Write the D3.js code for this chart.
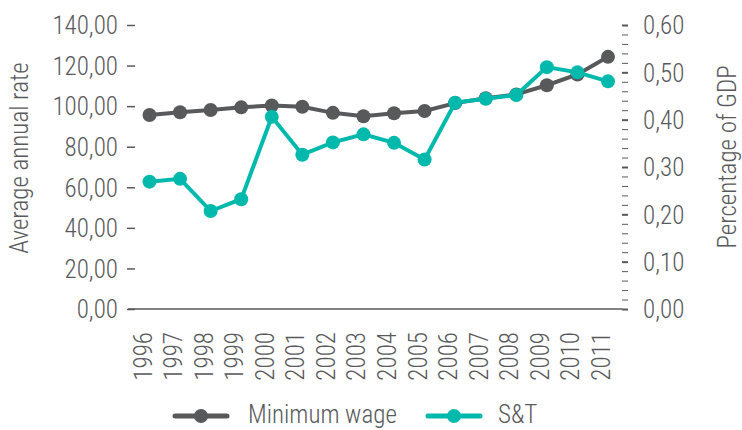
<!DOCTYPE html>
<html>
<head>
<meta charset="utf-8">
<script src="https://cdn.jsdelivr.net/npm/d3@7"></script>
<style>
  body { margin: 0; background: #fff; }
  svg text { font-family: "Liberation Sans Narrow", "Roboto Condensed", "DejaVu Sans Condensed", sans-serif; font-weight: 300; fill: #58595b; }
</style>
</head>
<body>
<div id="chart"></div>
<script>
const years = ['1996', '1997', '1998', '1999', '2000', '2001', '2002', '2003',
  '2004', '2005', '2006', '2007', '2008', '2009', '2010', '2011']
const minimumWage = [95.6, 97.0, 98.1, 99.4, 100.3, 99.7, 96.7, 95.0,
  96.5, 97.6, 101.5, 103.9, 105.8, 110.3, 115.6, 124.3]
const snt = [0.269, 0.275, 0.207, 0.232, 0.406, 0.326, 0.352, 0.369,
  0.351, 0.316, 0.436, 0.444, 0.452, 0.511, 0.500, 0.481]
const leftTicks = [0, 20, 40, 60, 80, 100, 120, 140]
const rightTicks = [0, 0.1, 0.2, 0.3, 0.4, 0.5, 0.6]
const seriesNames = ['Minimum wage', 'S&T']
const colors = ['#58595b', '#00b9ad']

const width = 742, height = 430
const plot = { left: 128, right: 622, top: 25, bottom: 309 }

const comma = d3.format('.2f')
const fmt = v => comma(v).replace('.', ',')

const svg = d3.select('#chart')
  .append('svg')
    .attr('width', width)
    .attr('height', height)

const x = d3.scalePoint()
  .domain(years)
  .range([149.5, 608])

const yLeft = d3.scaleLinear()
  .domain([0, 140])
  .range([plot.bottom, plot.top])

const yRight = d3.scaleLinear()
  .domain([0, 0.6])
  .range([plot.bottom, plot.top])

// left axis
const leftG = svg.append('g')
  .attr('transform', `translate(135, 0)`)
  .call(d3.axisLeft(yLeft).tickValues(leftTicks).tickSize(8).tickPadding(9).tickFormat(fmt))
leftG.select('.domain').remove()
leftG.selectAll('line').attr('stroke', '#58595b').attr('stroke-width', 1.5)
leftG.selectAll('text').style('font-size', '25px').attr('dy', '0.35em')

// right axis, minor dashes
const minor = d3.range(0, 0.601, 0.02).filter(v => Math.abs(Math.round(v * 10) - v * 10) > 0.01)
const rightMinor = svg.append('g')
  .attr('transform', `translate(${plot.right}, 0)`)
  .call(d3.axisRight(yRight).tickValues(minor).tickSize(6).tickFormat(''))
rightMinor.select('.domain').remove()
rightMinor.selectAll('line').attr('stroke', '#58595b').attr('stroke-width', 1)

const rightG = svg.append('g')
  .attr('transform', `translate(${plot.right}, 0)`)
  .call(d3.axisRight(yRight).tickValues(rightTicks).tickSize(6).tickPadding(15).tickFormat(fmt))
rightG.select('.domain').remove()
rightG.selectAll('line').attr('stroke', '#58595b').attr('stroke-width', 2)
rightG.selectAll('text').style('font-size', '25px').attr('dy', '0.35em')

// baseline
svg.append('line')
  .attr('x1', plot.left).attr('x2', plot.right)
  .attr('y1', plot.bottom).attr('y2', plot.bottom)
  .attr('stroke', '#58595b')
  .attr('stroke-width', 1.5)

// year labels
svg.append('g')
  .selectAll('text')
  .data(years)
  .enter()
  .append('text')
    .attr('transform', d => `translate(${x(d) + 2}, 332) rotate(-90)`)
    .attr('text-anchor', 'end')
    .style('font-size', '25px')
    .text(d => d)

// axis titles
svg.append('text')
  .attr('transform', `translate(28, 158) rotate(-90)`)
  .attr('text-anchor', 'middle')
  .style('font-size', '25px')
  .text('Average annual rate')

svg.append('text')
  .attr('transform', `translate(736, 157) rotate(-90)`)
  .attr('text-anchor', 'middle')
  .style('font-size', '25px')
  .text('Percentage of GDP')

// series
const series = [
  { name: seriesNames[0], values: minimumWage, y: yLeft, color: colors[0] },
  { name: seriesNames[1], values: snt, y: yRight, color: colors[1] }
]

const line = s => d3.line()
  .x((d, i) => x(years[i]))
  .y(d => s.y(d))

series.forEach(s => {
  const g = svg.append('g').attr('class', 'series')
  g.append('path')
    .datum(s.values)
    .attr('d', line(s))
    .attr('fill', 'none')
    .attr('stroke', s.color)
    .attr('stroke-width', 4)
  g.selectAll('circle')
    .data(s.values)
    .enter()
    .append('circle')
      .attr('cx', (d, i) => x(years[i]))
      .attr('cy', d => s.y(d))
      .attr('r', 7)
      .attr('fill', s.color)
})

// legend
const legendPos = [{ x: 175, tx: 248 }, { x: 428, tx: 498 }]
const legend = svg.append('g')
  .selectAll('g')
  .data(series)
  .enter()
  .append('g')
    .attr('transform', (d, i) => `translate(${legendPos[i].x}, 416)`)

legend.append('line')
  .attr('x1', 0).attr('x2', 52)
  .attr('stroke', d => d.color)
  .attr('stroke-width', 5)
  .attr('stroke-linecap', 'round')
legend.append('circle')
  .attr('cx', 26)
  .attr('r', 7)
  .attr('fill', d => d.color)
legend.append('text')
  .attr('x', (d, i) => legendPos[i].tx - legendPos[i].x)
  .attr('y', 7)
  .style('font-size', '25px')
  .text(d => d.name)
</script>
</body>
</html>
